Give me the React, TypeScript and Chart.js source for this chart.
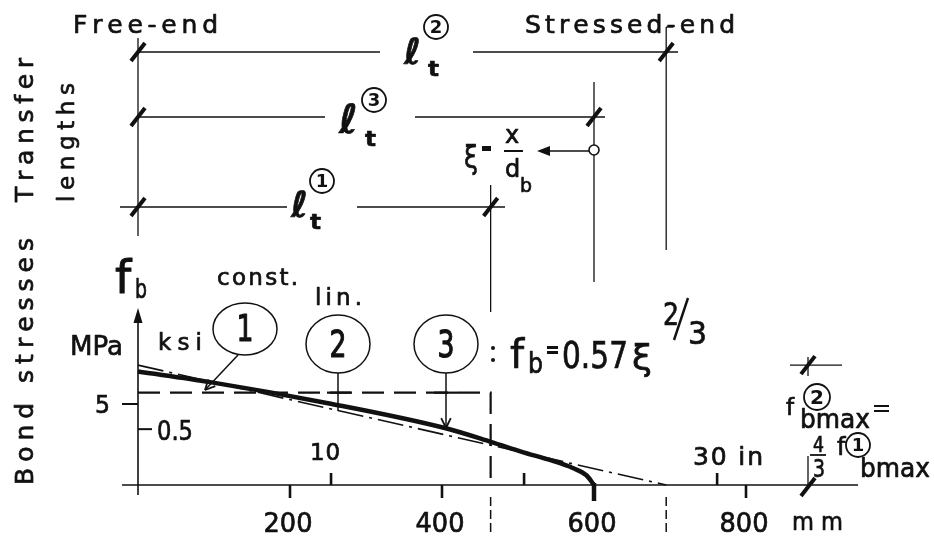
import { useEffect, useRef } from 'react';
import { Chart, registerables } from 'chart.js';

Chart.register(...registerables);

// Distance from the free end (mm) and bond stress f_b (MPa)
const model3Pos = [0, 95, 250, 405, 465, 505, 545, 572, 590, 600];
const model3Stress = [7.0, 6.35, 5.05, 3.5, 2.65, 2.05, 1.5, 1.05, 0.6, 0];

// Model 2 (linear) and model 1 (constant) bond stress distributions
const linPos = [0, 695];
const linStress = [7.4, 0];
const constPos = [0, 464, 464];
const constStress = [5.7, 5.7, 0];

// Transfer lengths l_t for models 1, 2, 3 (mm)
const transferLengths = [464, 695, 600];

// Axis tick values
const mmTicks = [200, 400, 600, 800];
const inchTicks = [10, 20, 30];
const mpaTick = 5;
const ksiTick = 0.5;
const KSI_TO_MPA = 6.895;
const IN_TO_MM = 25.4;

const FONT = '"DejaVu Sans"';
const INK = '#111';

type Ctx = CanvasRenderingContext2D;

function drawText(
  ctx: Ctx,
  s: string,
  x: number,
  y: number,
  size: number,
  w?: number,
  align: 'left' | 'center' | 'right' = 'left',
  weight = '',
  heavy = 0.7
) {
  ctx.save();
  ctx.font = `${weight} ${size}px ${FONT}`.trim();
  ctx.textBaseline = 'alphabetic';
  ctx.textAlign = 'left';
  ctx.fillStyle = INK;
  ctx.strokeStyle = INK;
  ctx.lineWidth = heavy;
  ctx.lineJoin = 'round';
  const chars = Array.from(s);
  const m = ctx.measureText(s).width;
  const target = w ?? m;
  const left = align === 'center' ? x - target / 2 : align === 'right' ? x - target : x;
  ctx.translate(left, y);
  if (target <= m + 0.5) {
    ctx.scale(target / m, 1);
    ctx.fillText(s, 0, 0);
    if (heavy > 0) ctx.strokeText(s, 0, 0);
  } else {
    const widths = chars.map((c) => ctx.measureText(c).width);
    const sum = widths.reduce((a, b) => a + b, 0);
    const gap = chars.length > 1 ? (target - sum) / (chars.length - 1) : 0;
    let cx = 0;
    chars.forEach((c, i) => {
      ctx.fillText(c, cx, 0);
      if (heavy > 0) ctx.strokeText(c, cx, 0);
      cx += widths[i] + gap;
    });
  }
  ctx.restore();
}

function drawRotated(ctx: Ctx, s: string, x: number, y: number, size: number, w: number) {
  ctx.save();
  ctx.translate(x, y);
  ctx.rotate(-Math.PI / 2);
  drawText(ctx, s, 0, 0, size, w);
  ctx.restore();
}

function line(ctx: Ctx, x1: number, y1: number, x2: number, y2: number, lw = 1.4, dash: number[] = []) {
  ctx.save();
  ctx.strokeStyle = INK;
  ctx.lineWidth = lw;
  ctx.setLineDash(dash);
  ctx.beginPath();
  ctx.moveTo(x1, y1);
  ctx.lineTo(x2, y2);
  ctx.stroke();
  ctx.restore();
}

function slash(ctx: Ctx, cx: number, cy: number) {
  line(ctx, cx - 7, cy + 9, cx + 7, cy - 9, 4);
}

function circled(ctx: Ctx, cx: number, cy: number, r: number, digit: string, size: number) {
  ctx.save();
  ctx.strokeStyle = INK;
  ctx.lineWidth = 1.8;
  ctx.beginPath();
  ctx.arc(cx, cy, r, 0, Math.PI * 2);
  ctx.stroke();
  ctx.restore();
  drawText(ctx, digit, cx, cy + size * 0.36, size, undefined, 'center', 'bold', 0);
}

function bubble(ctx: Ctx, cx: number, cy: number, rx: number, ry: number, digit: string, base: number) {
  ctx.save();
  ctx.strokeStyle = INK;
  ctx.lineWidth = 1.5;
  ctx.beginPath();
  ctx.ellipse(cx, cy, rx, ry, 0, 0, Math.PI * 2);
  ctx.stroke();
  ctx.restore();
  drawText(ctx, digit, cx, base, 37, 17, 'center', '', 1.2);
}

function openArrow(ctx: Ctx, x1: number, y1: number, x2: number, y2: number, len = 10) {
  const a = Math.atan2(y2 - y1, x2 - x1);
  line(ctx, x1, y1, x2, y2, 1.5);
  line(ctx, x2, y2, x2 - len * Math.cos(a - 0.45), y2 - len * Math.sin(a - 0.45), 1.8);
  line(ctx, x2, y2, x2 - len * Math.cos(a + 0.45), y2 - len * Math.sin(a + 0.45), 1.8);
}

const drawingPlugin = {
  id: 'bondDrawing',
  beforeDraw(chart: any) {
    const ctx: Ctx = chart.ctx;
    ctx.save();
    ctx.fillStyle = '#fff';
    ctx.fillRect(0, 0, chart.width, chart.height);
    ctx.restore();
  },
  afterDatasetsDraw(chart: any) {
    const ctx: Ctx = chart.ctx;
    const xs = chart.scales.x;
    const ys = chart.scales.y;
    const X = (v: number) => xs.getPixelForValue(v);
    const Y = (v: number) => ys.getPixelForValue(v);
    const x0 = X(0);
    const base = Y(0);
    const [lt1, lt2, lt3] = transferLengths.map(X);

    // Side titles
    drawRotated(ctx, 'Transfer', 33, 202, 25, 144);
    drawRotated(ctx, 'lengths', 74, 202, 23, 119);
    drawRotated(ctx, 'Bond stresses', 33, 485, 25, 247);
    drawText(ctx, 'Free-end', 73, 33, 25, 145);
    drawText(ctx, 'Stressed-end', 525, 33, 25, 210);

    // Free-end and transfer-length reference lines
    line(ctx, x0, 38, x0, 236, 1.3);
    line(ctx, lt1, 185, lt1, 312, 1.3);
    line(ctx, lt3, 82, lt3, 282, 1.3);
    line(ctx, lt2, 27, lt2, 250, 1.3);
    line(ctx, lt2, 27, lt2 + 7, 27, 1.3);
    line(ctx, lt1, base + 12, lt1, 536, 1.5, [9, 4]);
    line(ctx, lt2, base + 12, lt2, 536, 1.5, [9, 4]);

    // Dimension rows
    const rows = [
      { y: 52, L: x0, gL: 380, gR: 473, R: 678, end: lt2 },
      { y: 117, L: x0, gL: 325, gR: 415, R: 605, end: lt3 },
      { y: 207, L: 120, gL: 287, gR: 357, R: 505, end: lt1 },
    ];
    rows.forEach((r) => {
      line(ctx, r.L, r.y, r.gL, r.y, 1.3);
      line(ctx, r.gR, r.y, r.R, r.y, 1.3);
      slash(ctx, x0, r.y);
      slash(ctx, r.end, r.y);
    });

    // l_t labels
    drawText(ctx, 'ℓ', 404, 64, 36, 19, 'left', 'bold');
    drawText(ctx, 't', 428, 76, 22, 11, 'left', 'bold');
    circled(ctx, 436, 27, 12, '2', 18);
    drawText(ctx, 'ℓ', 339, 133, 40, 23, 'left', 'bold');
    drawText(ctx, 't', 365, 146, 22, 11, 'left', 'bold');
    circled(ctx, 374, 100, 12, '3', 18);
    drawText(ctx, 'ℓ', 291, 217, 36, 18, 'left', 'bold');
    drawText(ctx, 't', 310, 229, 22, 11, 'left', 'bold');
    circled(ctx, 322, 181, 12, '1', 18);

    // xi = x / d_b, with marker at the l_t(3) line
    drawText(ctx, 'ξ', 464, 168, 32, 14);
    ctx.fillStyle = INK;
    ctx.fillRect(482, 146, 9, 5);
    drawText(ctx, 'x', 505, 143, 24, 17);
    line(ctx, 504, 151, 523, 151, 2);
    drawText(ctx, 'd', 505, 177, 24, 16);
    drawText(ctx, 'b', 520, 192, 20, 12);
    line(ctx, lt3 - 5, 151, 545, 151, 1.5);
    ctx.beginPath();
    ctx.moveTo(537, 151);
    ctx.lineTo(550, 146);
    ctx.lineTo(550, 156);
    ctx.closePath();
    ctx.fill();
    ctx.save();
    ctx.fillStyle = '#fff';
    ctx.strokeStyle = INK;
    ctx.lineWidth = 1.6;
    ctx.beginPath();
    ctx.arc(lt3, 150, 5, 0, Math.PI * 2);
    ctx.fill();
    ctx.stroke();
    ctx.restore();

    // Axes
    line(ctx, 122, base, 858, base, 1.5);
    line(ctx, x0, base + 10, x0, 318, 1.6);
    ctx.fillStyle = INK;
    ctx.beginPath();
    ctx.moveTo(x0, 308);
    ctx.lineTo(x0 - 4.5, 323);
    ctx.lineTo(x0 + 4.5, 323);
    ctx.closePath();
    ctx.fill();

    // Stress ticks
    line(ctx, x0 - 16, Y(mpaTick), x0, Y(mpaTick), 2);
    line(ctx, x0, Y(ksiTick * KSI_TO_MPA), x0 + 14, Y(ksiTick * KSI_TO_MPA), 2);
    drawText(ctx, String(mpaTick), 110, 413, 25, 15, 'right');
    drawText(ctx, '0.5', 157, 440, 27, 36);
    drawText(ctx, 'MPa', 70, 355, 27, 53);
    drawText(ctx, 'ksi', 158, 350, 23, 44);

    // Length ticks (mm below, inches above)
    mmTicks.forEach((v) => {
      const px = X(v);
      if (v === 600) line(ctx, px, base - 2, px, base + 16, 4.5);
      else line(ctx, px, base, px, base + 13, 2.6);
      drawText(ctx, String(v), px - 2, 532, 27, 49, 'center');
    });
    drawText(ctx, 'm m', 792, 530, 25, 51);
    inchTicks.forEach((v) => {
      const px = X(v * IN_TO_MM);
      line(ctx, px, base, px, base - 12, 2.6);
    });
    drawText(ctx, '10', X(10 * IN_TO_MM) - 6, 460, 23, 30, 'center');
    drawText(ctx, '30 in', 693, 465, 25, 70);

    // f_b axis label
    drawText(ctx, 'f', 115, 293, 46, 18, 'left', '', 1);
    drawText(ctx, 'b', 135, 298, 26, 12);

    // Model bubbles with leaders
    drawText(ctx, 'const.', 217, 285, 23, 81);
    drawText(ctx, 'lin.', 315, 305, 23, 47);
    bubble(ctx, 245, 329, 32, 26, '1', 341);
    bubble(ctx, 338, 344, 32, 29, '2', 357);
    bubble(ctx, 446, 344, 32, 29, '3', 357);
    openArrow(ctx, 238, 355, 205, 390, 11);
    line(ctx, 338, 373, 338, 411, 1.5);
    line(ctx, 327, Y(constStress[0]), 351, Y(constStress[0]), 2.2);
    openArrow(ctx, 446, 373, 446, 428, 11);
    line(ctx, 434, Y(constStress[0]), 458, Y(constStress[0]), 2.2);

    // Power-law formula for model 3
    ctx.fillStyle = INK;
    ctx.beginPath();
    ctx.arc(493, 348, 2, 0, Math.PI * 2);
    ctx.arc(493, 360, 2, 0, Math.PI * 2);
    ctx.fill();
    drawText(ctx, 'f', 510, 368, 40, 16);
    drawText(ctx, 'b', 528, 373, 28, 15);
    ctx.fillStyle = INK;
    ctx.fillRect(547, 346, 11, 3);
    ctx.fillRect(547, 351, 11, 3);
    drawText(ctx, '0.57', 562, 368, 37, 66);
    drawText(ctx, 'ξ', 632, 370, 36, 22);
    drawText(ctx, '2', 663, 325, 32, 16);
    line(ctx, 674, 340, 688, 298, 2.4);
    drawText(ctx, '3', 688, 344, 32, 19);

    // f_bmax(2) = 4/3 f_bmax(1)
    const yTop = Y(linStress[0]);
    line(ctx, 790, yTop, 842, yTop, 1.3);
    line(ctx, 808, yTop - 8, 808, yTop + 11, 1.3);
    slash(ctx, 808, yTop);
    drawText(ctx, 'f', 786, 415, 23, 10);
    circled(ctx, 817, 397, 13, '2', 20);
    drawText(ctx, 'bmax', 800, 428, 26, 70);
    line(ctx, 874, 406, 889, 406, 2);
    line(ctx, 874, 411, 889, 411, 2);
    drawText(ctx, '4', 813, 452, 21, 11);
    line(ctx, 810, 455, 826, 455, 1.8);
    drawText(ctx, '3', 813, 477, 25, 12);
    line(ctx, 808, 456, 808, base, 1.3);
    drawText(ctx, 'f', 837, 455, 24, 11);
    circled(ctx, 858, 445, 12, '1', 18);
    drawText(ctx, 'bmax', 860, 477, 26, 70);
    slash(ctx, 808, base + 2);
  },
};

export default function App() {
  const ref = useRef<HTMLCanvasElement>(null);

  useEffect(() => {
    const toPts = (xsArr: number[], ysArr: number[]) => xsArr.map((x, i) => ({ x, y: ysArr[i] }));
    const chart = new Chart(ref.current as HTMLCanvasElement, {
      type: 'scatter',
      data: {
        datasets: [
          {
            label: 'Model 3',
            data: toPts(model3Pos, model3Stress),
            showLine: true,
            borderColor: INK,
            borderWidth: 4.5,
            pointRadius: 0,
            cubicInterpolationMode: 'monotone',
            clip: false,
          },
          {
            label: 'Model 2 (lin.)',
            data: toPts(linPos, linStress),
            showLine: true,
            borderColor: INK,
            borderWidth: 1.6,
            borderDash: [26, 6, 3, 6],
            pointRadius: 0,
            clip: false,
          },
          {
            label: 'Model 1 (const.)',
            data: toPts(constPos, constStress),
            showLine: true,
            borderColor: INK,
            borderWidth: 2.2,
            borderDash: [22, 10],
            pointRadius: 0,
            clip: false,
          },
        ],
      } as any,
      options: {
        animation: false,
        responsive: false,
        maintainAspectRatio: false,
        events: [],
        layout: { padding: { left: 138, right: 36, top: 80, bottom: 54 } },
        plugins: { legend: { display: false }, tooltip: { enabled: false } },
        scales: {
          x: { type: 'linear', min: 0, max: 1000, display: false },
          y: { type: 'linear', min: 0, max: 25, display: false },
        },
      },
      plugins: [drawingPlugin],
    });
    return () => chart.destroy();
  }, []);

  return (
    <div style={{ position: 'fixed', left: 0, top: 0, width: 934, height: 539, background: '#fff' }}>
      <canvas ref={ref} width={934} height={539} style={{ display: 'block' }} />
    </div>
  );
}
